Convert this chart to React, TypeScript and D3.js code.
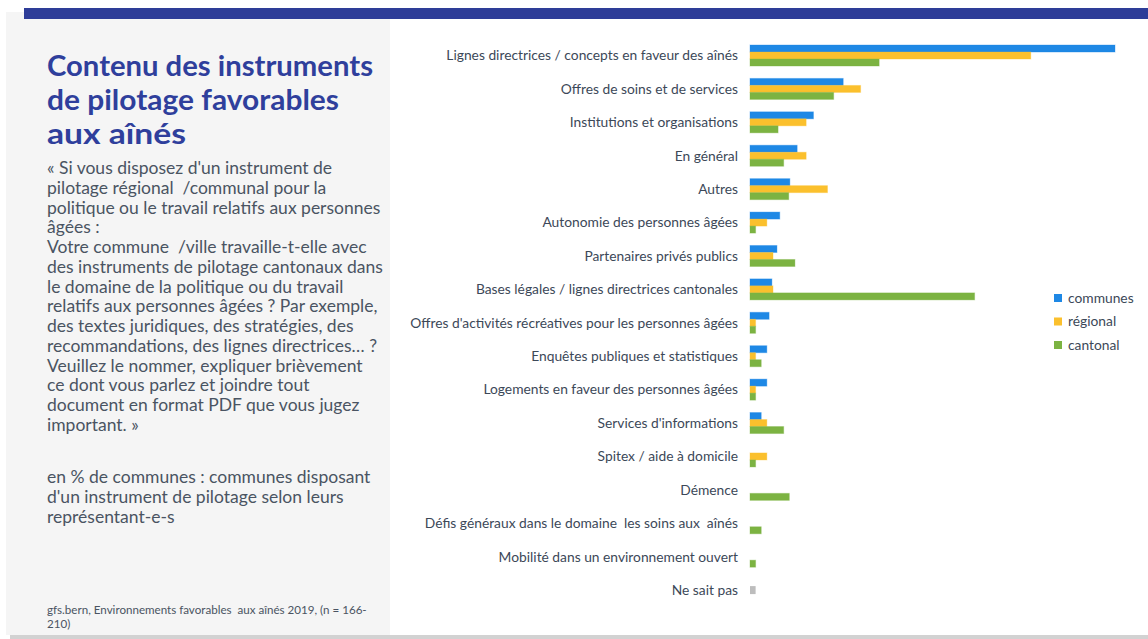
import React from 'react';
import * as d3 from 'd3';

const categories = [
  'Lignes directrices / concepts en faveur des aînés',
  'Offres de soins et de services',
  'Institutions et organisations',
  'En général',
  'Autres',
  'Autonomie des personnes âgées',
  'Partenaires privés publics',
  'Bases légales / lignes directrices cantonales',
  "Offres d'activités récréatives pour les personnes âgées",
  'Enquêtes publiques et statistiques',
  'Logements en faveur des personnes âgées',
  "Services d'informations",
  'Spitex / aide à domicile',
  'Démence',
  'Défis généraux dans le domaine \u00a0les soins aux \u00a0aînés',
  'Mobilité dans un environnement ouvert',
  'Ne sait pas',
];

// en % de communes
const communes = [65, 16.6, 11.3, 8.4, 7.1, 5.3, 4.8, 3.9, 3.4, 3, 3, 2, 0, 0, 0, 0, 0];
const regional = [50, 19.7, 10, 10, 13.8, 3, 4.1, 4.1, 1, 1, 1, 3, 3, 0, 0, 0, 0];
const cantonal = [23, 14.9, 5, 6, 6.9, 1, 8, 40, 1, 2, 1, 6, 1, 7, 2, 1, 0];
const neSaitPas = [0, 0, 0, 0, 0, 0, 0, 0, 0, 0, 0, 0, 0, 0, 0, 0, 1];

const seriesNames = ['communes', 'régional', 'cantonal'];
const seriesColors = ['#1e88e5', '#fbc02d', '#7cb342'];

const titleLines = ['Contenu des instruments', 'de pilotage favorables', 'aux aînés'];
const titleWidths = [326, 292, 139];
const questionLines = [
  "« Si vous disposez d'un instrument de",
  'pilotage régional \u00a0/communal pour la',
  'politique ou le travail relatifs aux personnes',
  'âgées :',
  'Votre commune \u00a0/ville travaille-t-elle avec',
  'des instruments de pilotage cantonaux dans',
  'le domaine de la politique ou du travail',
  'relatifs aux personnes âgées ? Par exemple,',
  'des textes juridiques, des stratégies, des',
  'recommandations, des lignes directrices… ?',
  'Veuillez le nommer, expliquer brièvement',
  'ce dont vous parlez et joindre tout',
  'document en format PDF que vous jugez',
  'important. »',
];
const noteLines = [
  'en % de communes : communes disposant',
  "d'un instrument de pilotage selon leurs",
  'représentant-e-s',
];
const sourceLines = ['gfs.bern, Environnements favorables \u00a0aux aînés 2019, (n = 166-', '210)'];

const W = 1148;
const H = 639;
const font = 'Lato, "Noto Sans", sans-serif';

export default function App() {
  const values = [communes, regional, cantonal];

  const x = d3.scaleLinear().domain([0, 65]).range([750, 1115]);
  const y = d3.scaleBand<string>().domain(categories).range([38.8, 606.8]);
  const inner = d3.scaleBand<string>().domain(seriesNames).range([0, 21]);

  return (
    <svg width={W} height={H} style={{ position: 'absolute', left: 0, top: 0, background: '#fff' }}>
      {/* left panel */}
      <rect x={6} y={12} width={384} height={623} fill="#f5f5f5" />
      <rect x={24} y={8} width={W - 24} height={11} fill="#2e3d98" />
      <rect x={10} y={635} width={W - 10} height={4} fill="#d2d2d2" />

      <g fontFamily={font}>
        {titleLines.map((t, i) => (
          <text
            key={t}
            x={47}
            y={76 + i * 34}
            fontSize={28}
            fontWeight={700}
            fill="#2f3f9c"
            textLength={titleWidths[i]}
            lengthAdjust="spacingAndGlyphs"
          >
            {t}
          </text>
        ))}
        {questionLines.map((t, i) => (
          <text key={i} x={47} y={174 + i * 19.75} fontSize={17.5} fill="#4a5462">
            {t}
          </text>
        ))}
        {noteLines.map((t, i) => (
          <text key={i} x={47} y={483 + i * 20} fontSize={17.5} fill="#4a5462">
            {t}
          </text>
        ))}
        {sourceLines.map((t, i) => (
          <text key={i} x={47} y={614 + i * 14} fontSize={11.6} fill="#4a5462">
            {t}
          </text>
        ))}
      </g>

      {/* category labels */}
      <g fontFamily={font} fontSize={13.8} fill="#3c4858">
        {categories.map((c) => (
          <text key={c} x={738} y={(y(c) ?? 0) + y.bandwidth() / 2} dy="0.35em" textAnchor="end">
            {c}
          </text>
        ))}
      </g>

      {/* bars */}
      {categories.map((c, ci) => {
        const top = (y(c) ?? 0) + y.bandwidth() / 2 - 10.5;
        return (
          <g key={c}>
            {seriesNames.map((s, si) => {
              const v = values[si][ci];
              if (!v) return null;
              return (
                <rect
                  key={s}
                  x={x(0)}
                  y={top + (inner(s) ?? 0)}
                  width={x(v) - x(0)}
                  height={inner.bandwidth()}
                  fill={seriesColors[si]}
                  stroke={seriesColors[si]}
                  strokeOpacity={0.35}
                  strokeWidth={1}
                />
              );
            })}
            {neSaitPas[ci] > 0 && (
              <rect
                x={x(0)}
                y={top + 6.5}
                width={x(neSaitPas[ci]) - x(0)}
                height={8}
                fill="#bdbdbd"
              />
            )}
          </g>
        );
      })}

      {/* legend */}
      <g fontFamily={font} fontSize={13.8} fill="#3c4858">
        {seriesNames.map((s, i) => (
          <g key={s} transform={`translate(1054,${298 + i * 23.5})`}>
            <rect x={0} y={-4} width={8} height={8} fill={seriesColors[i]} />
            <text x={14} y={0} dy="0.35em">
              {s}
            </text>
          </g>
        ))}
      </g>
    </svg>
  );
}
